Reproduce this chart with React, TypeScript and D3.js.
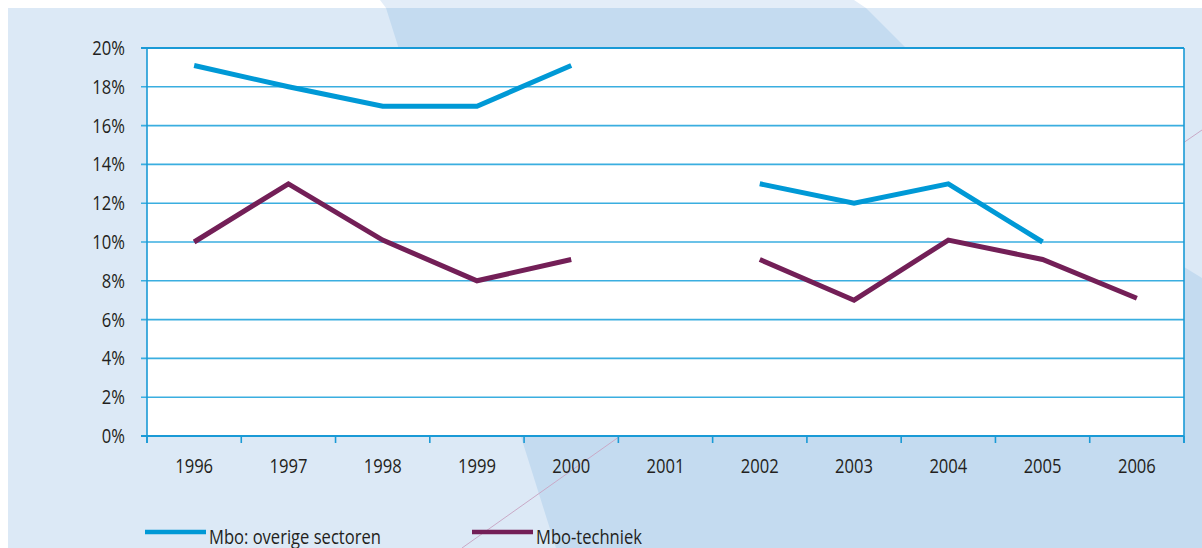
import React from "react";
import * as d3 from "d3";

const years = ["1996", "1997", "1998", "1999", "2000", "2001", "2002", "2003", "2004", "2005", "2006"];
const overigeSectoren = [19.1, 18, 17, 17, 19.1, null, 13, 12, 13, 10, null];
const techniek = [10, 13, 10.1, 8, 9.1, null, 9.1, 7, 10.1, 9.1, 7.1];
const yTicks = [0, 2, 4, 6, 8, 10, 12, 14, 16, 18, 20];

const W = 1202;
const H = 548;
const left = 147;
const right = 1184;
const top = 48;
const bottom = 436;
const font = "'Open Sans', sans-serif";
const squeeze = 0.85; // the original face is a condensed one

const series = [
  { name: "Mbo: overige sectoren", values: overigeSectoren, color: "#0099d6", lx: 145 },
  { name: "Mbo-techniek", values: techniek, color: "#731f57", lx: 472 },
];

// text drawn narrower than Open Sans normally is
function Label(props: { x: number; y: number; anchor?: string; children: React.ReactNode }) {
  return (
    <text
      transform={`translate(${props.x},${props.y}) scale(${squeeze},1)`}
      textAnchor={props.anchor || "start"}
      fontSize={19.5}
      fill="#231f20"
    >
      {props.children}
    </text>
  );
}

export default function App() {
  const x = d3.scaleBand().domain(years).range([left, right]);
  const y = d3.scaleLinear().domain([0, 20]).range([bottom, top]);

  const line = d3
    .line<number | null>()
    .defined((d) => d != null)
    .x((_, i) => (x(years[i]) as number) + x.bandwidth() / 2)
    .y((d) => y(d as number));

  const bounds = years.map((yr) => x(yr) as number).concat([right]);

  return (
    <svg
      width={W}
      height={H}
      style={{ position: "absolute", left: 0, top: 0 }}
      fontFamily={font}
    >
      <rect x={0} y={0} width={W} height={H} fill="#ffffff" />
      {/* background panels */}
      <polygon points="380,0 854,0 866,8 386,8" fill="#e3edf8" />
      <rect x={8} y={8} width={W - 8} height={H - 8} fill="#dce9f6" />
      <polygon points="386,8 866,8 906,48 1184,267 1202,278 1202,548 556,548" fill="#c4dbf0" />
      <line x1={462} y1={548} x2={640} y2={422} stroke="#c9a9c6" strokeWidth={1} />
      <line x1={1170} y1={152} x2={1202} y2={130} stroke="#c9a9c6" strokeWidth={1} />

      {/* plot area */}
      <rect x={left} y={top} width={right - left} height={bottom - top} fill="#ffffff" />
      {yTicks.map((t) => (
        <g key={t}>
          <line x1={left - 6} x2={right} y1={y(t)} y2={y(t)} stroke={t === 20 ? "#1a9ad6" : "#3aaee0"} strokeWidth={t === 20 ? 2 : 1.6} />
          <Label x={125} y={y(t) + 7} anchor="end">
            {t}%
          </Label>
        </g>
      ))}
      <line x1={left} x2={left} y1={top} y2={bottom + 7} stroke="#1a9ad6" strokeWidth={1.6} />
      <line x1={right} x2={right} y1={top} y2={bottom + 7} stroke="#1a9ad6" strokeWidth={1.6} />
      <line x1={left - 6} x2={right} y1={bottom} y2={bottom} stroke="#1a9ad6" strokeWidth={2.2} />
      {bounds.map((b, i) => (
        <line key={i} x1={b} x2={b} y1={bottom} y2={bottom + 7} stroke="#1a9ad6" strokeWidth={1.6} />
      ))}
      {years.map((yr) => (
        <Label key={yr} x={(x(yr) as number) + x.bandwidth() / 2} y={473} anchor="middle">
          {yr}
        </Label>
      ))}

      {series.map((s) => (
        <path
          key={s.name}
          d={line(s.values) || ""}
          fill="none"
          stroke={s.color}
          strokeWidth={5}
          strokeLinejoin="miter"
        />
      ))}

      {/* legend */}
      {series.map((s) => (
        <g key={s.name}>
          <line x1={s.lx} x2={s.lx + 61} y1={532} y2={532} stroke={s.color} strokeWidth={4.5} />
          <Label x={s.lx + 64} y={544}>
            {s.name}
          </Label>
        </g>
      ))}
    </svg>
  );
}
